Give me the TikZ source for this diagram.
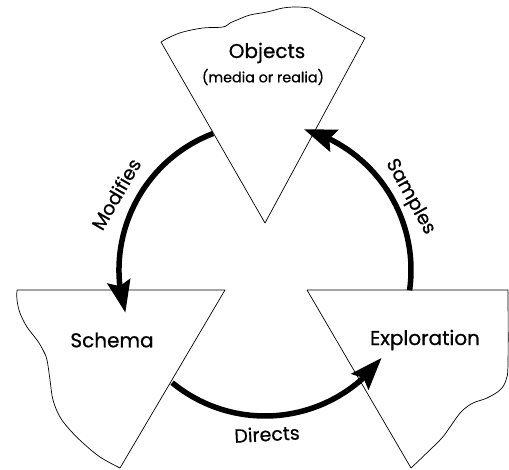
\documentclass[tikz,border=0pt]{standalone}
\usepackage{fontspec}
\setmainfont{Poppins}
\newfontfamily\medfont{Poppins}[FakeBold=0.6,Ligatures=NoCommon]
\usetikzlibrary{arrows.meta,bending,calc}
\begin{document}
\begin{tikzpicture}[x=1pt,y=1pt,
  shapeline/.style={draw=black,line width=0.7pt,fill=white,line join=round},
  cycarrow/.style={line width=5.5pt,-{Stealth[length=32pt,width=23pt,inset=5pt]}},
  bigtxt/.style={font=\medfont\fontsize{20}{24}\selectfont},
  smalltxt/.style={font=\medfont\fontsize{14.3}{17}\selectfont},
  arctxt/.style={font=\medfont\fontsize{19}{22}\selectfont}]
\useasboundingbox (0,0) rectangle (509,469);
% Objects
\path[shapeline] plot[smooth,tension=0.6] coordinates {(161,427) (170,432) (183,437) (203,441) (223,442) (230,446) (237,449) (250,454) (267,457) (283,461) (297,462) (310,461)} -- (365,431) -- (265,246) -- cycle;
% Schema
\path[shapeline] (225,179) -- (120,1) -- plot[smooth,tension=0.6] coordinates {(120,1) (100,12) (83,26) (70,39) (60,52) (53,69) (50,89) (47,109) (43,119) (37,129) (27,142) (20,156) (17,169) (17,179)} -- cycle;
% Exploration
\path[shapeline] (307,179) -- (508,179) -- plot[smooth,tension=0.6] coordinates {(508,179) (508,106) (506,89) (500,79) (487,71) (473,66) (463,59) (457,52) (450,42) (440,29) (411,1)} -- cycle;
% text nodes
\node[bigtxt] (obj) at (267,416) {Objects};
\node[smalltxt] (objsub) at (263,392) {(media or realia)};
\node[bigtxt] (sch) at (112,129) {Schema};
\node[bigtxt] (exp) at (425,129) {Exploration};
% arcs
\coordinate (c) at (265,199);
\coordinate (ms) at ($(c)+(110.8:146)$);
\coordinate (ds) at ($(c)+(230.5:146)$);
\coordinate (ss) at ($(c)+(-8:146)$);
\draw[cycarrow] (ms) arc[start angle=110.8,end angle=197,radius=146];
\draw[cycarrow] (ds) arc[start angle=230.5,end angle=323,radius=146];
\draw[cycarrow] (ss) arc[start angle=-8,end angle=74.5,radius=146];
% labels
\node[arctxt,rotate=60] (mod) at (116,275) {Modifies};
\node[arctxt,rotate=-61] (sam) at (410,272) {Samples};
\node[arctxt,rotate=3] (dir) at (267,35) {Directs};
\end{tikzpicture}
\end{document}
